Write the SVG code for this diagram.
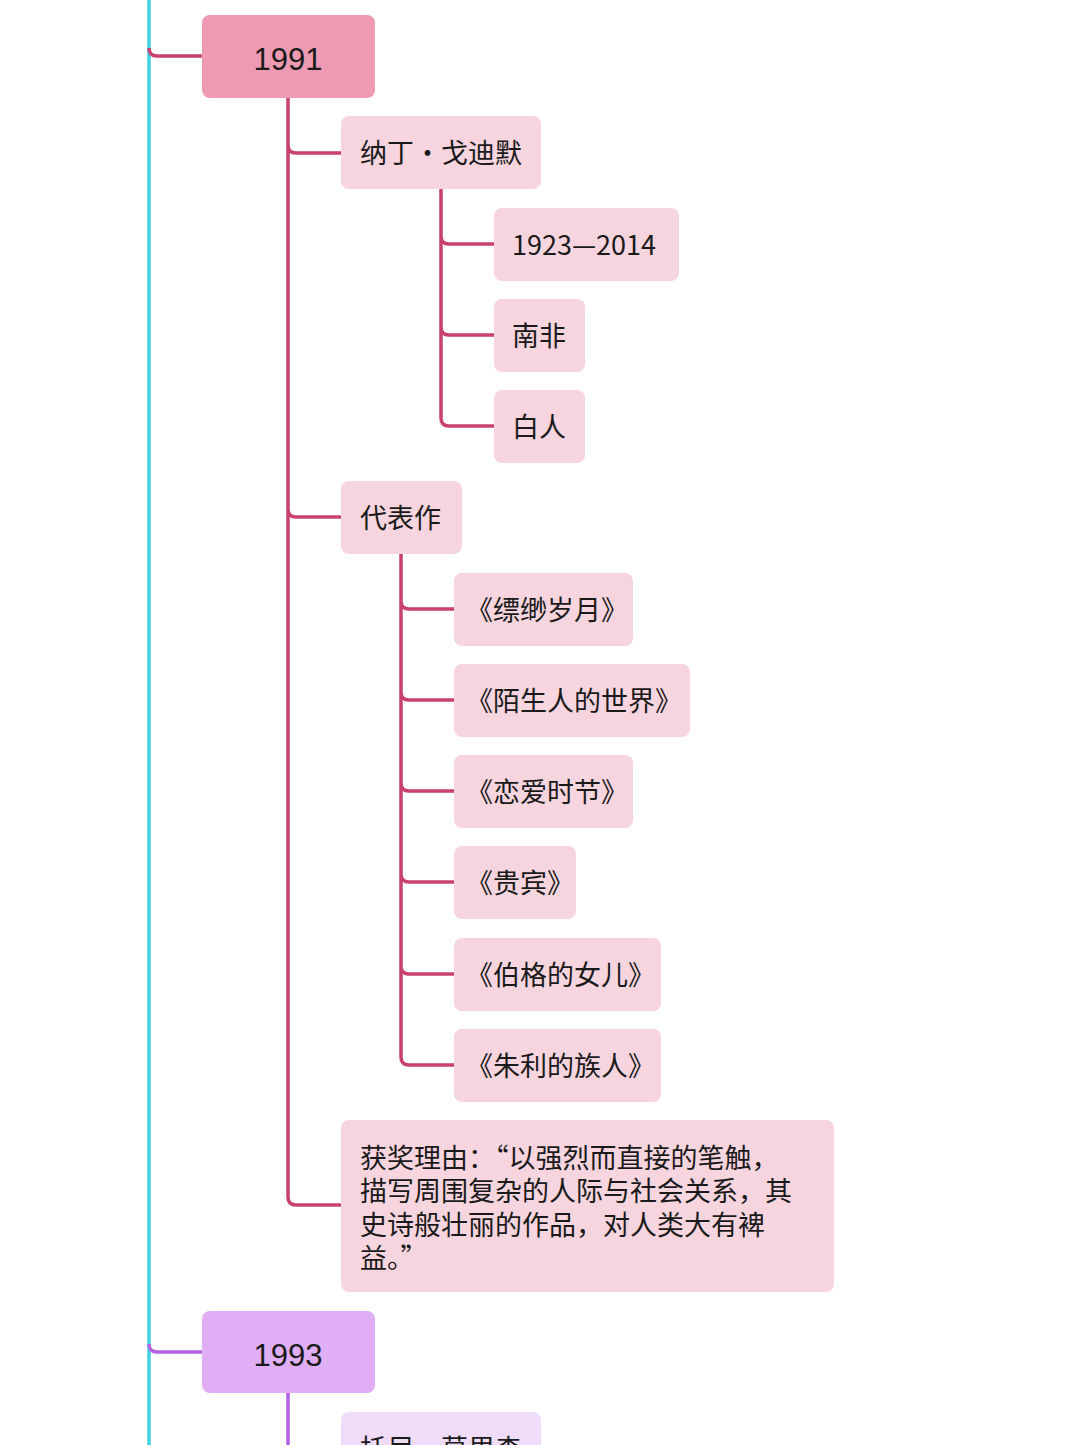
<svg xmlns="http://www.w3.org/2000/svg" width="1080" height="1445" viewBox="0 0 1080 1445">
<style>
.t{font-family:"Noto Sans CJK SC","Liberation Sans",sans-serif;font-size:27px;fill:#1a1a1a}
.y{font-family:"Liberation Sans","Noto Sans CJK SC",sans-serif;font-size:31px;fill:#1a1a1a}
.c{fill:none;stroke:#c9426f;stroke-width:3.5}
.p{fill:none;stroke:#b362e0;stroke-width:3.5}
.n{fill:#f7d5df}
</style>
<rect width="1080" height="1445" fill="#fff"/>
<g id="connectors">
<line x1="149" y1="0" x2="149" y2="1445" stroke="#3ed3df" stroke-width="3.5"/>
<path class="c" d="M149 48 Q149 56 157 56 H202"/>
<path class="c" d="M288 98 V1197 Q288 1205 296 1205 H341 M288 145 Q288 153 296 153 H341 M288 509 Q288 517 296 517 H341"/>
<path class="c" d="M441 189 V418 Q441 426 449 426 H494 M441 236 Q441 244 449 244 H494 M441 327 Q441 335 449 335 H494"/>
<path class="c" d="M401 554 V1057 Q401 1065 409 1065 H454 M401 601 Q401 609 409 609 H454 M401 692 Q401 700 409 700 H454 M401 783 Q401 791 409 791 H454 M401 874 Q401 882 409 882 H454 M401 966 Q401 974 409 974 H454"/>
<path class="p" d="M149 1344 Q149 1352 157 1352 H202 M288 1393 V1445"/>
</g>
<g id="n1991"><rect x="202" y="15" width="173" height="83" rx="8" fill="#ee9ab3"/><text class="y" x="288" y="70" text-anchor="middle">1991</text></g>
<g id="nadine"><rect class="n" x="341" y="116" width="200" height="73" rx="8"/><text class="t" x="360" y="163">纳丁·戈迪默</text></g>
<g id="life"><rect class="n" x="494" y="208" width="185" height="73" rx="8"/><text class="t" x="512" y="255" font-family="Liberation Sans,sans-serif">1923—2014</text></g>
<g id="sa"><rect class="n" x="494" y="299" width="91" height="73" rx="8"/><text class="t" x="512" y="346">南非</text></g>
<g id="white"><rect class="n" x="494" y="390" width="91" height="73" rx="8"/><text class="t" x="512" y="437">白人</text></g>
<g id="works"><rect class="n" x="341" y="481" width="121" height="73" rx="8"/><text class="t" x="360" y="528">代表作</text></g>
<g id="w1"><rect class="n" x="454" y="573" width="179" height="73" rx="8"/><text class="t" x="466" y="620">《缥缈岁月》</text></g>
<g id="w2"><rect class="n" x="454" y="664" width="236" height="73" rx="8"/><text class="t" x="466" y="711">《陌生人的世界》</text></g>
<g id="w3"><rect class="n" x="454" y="755" width="179" height="73" rx="8"/><text class="t" x="466" y="802">《恋爱时节》</text></g>
<g id="w4"><rect class="n" x="454" y="846" width="122" height="73" rx="8"/><text class="t" x="466" y="893">《贵宾》</text></g>
<g id="w5"><rect class="n" x="454" y="938" width="207" height="73" rx="8"/><text class="t" x="466" y="985">《伯格的女儿》</text></g>
<g id="w6"><rect class="n" x="454" y="1029" width="207" height="73" rx="8"/><text class="t" x="466" y="1076">《朱利的族人》</text></g>
<g id="reason"><rect class="n" x="341" y="1120" width="493" height="172" rx="8"/>
<text class="t" x="360" y="1168">获奖理由：“以强烈而直接的笔触，</text>
<text class="t" x="360" y="1201">描写周围复杂的人际与社会关系，其</text>
<text class="t" x="360" y="1235">史诗般壮丽的作品，对人类大有裨</text>
<text class="t" x="360" y="1268">益。”</text></g>
<g id="n1993"><rect x="202" y="1311" width="173" height="82" rx="8" fill="#dfaef5"/><text class="y" x="288" y="1366" text-anchor="middle">1993</text></g>
<g id="morrison"><rect x="341" y="1412" width="200" height="73" rx="8" fill="#f0dcf8"/><text class="t" x="360" y="1459">托尼·莫里森</text></g>
</svg>
